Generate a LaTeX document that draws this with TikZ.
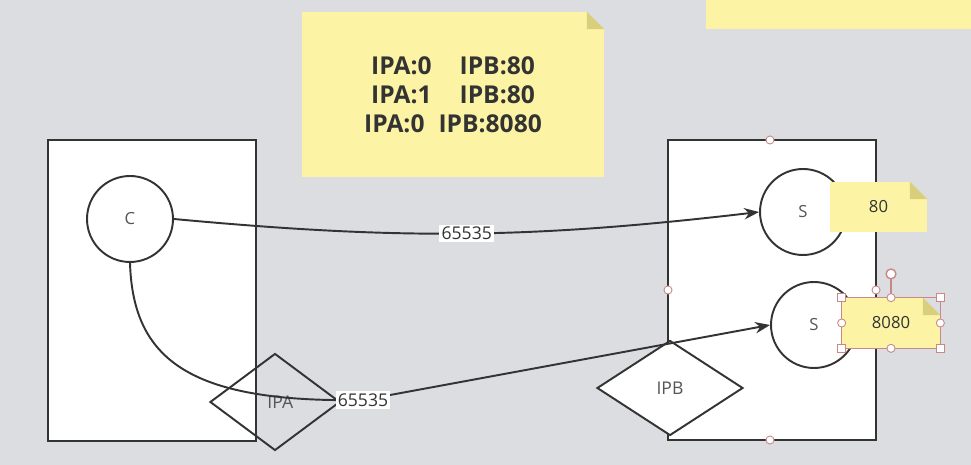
\documentclass[tikz,border=0pt]{standalone}
\usepackage{fontspec}
\setmainfont{Open Sans}
\usepackage{xcolor}
\usetikzlibrary{arrows.meta}
\usetikzlibrary{shapes.geometric}
\definecolor{bggray}{HTML}{DCDDE1}
\definecolor{notey}{HTML}{FCF4A4}
\definecolor{foldy}{HTML}{D8CE7C}
\definecolor{ink}{HTML}{333333}
\definecolor{txtgray}{HTML}{555555}
\definecolor{handle}{HTML}{C88888}
\tikzset{
  hostbox/.style={draw=ink, fill=white, line width=1.1pt, inner sep=0},
  proc/.style={circle, draw=ink, fill=white, line width=1.1pt, minimum size=1.72cm, inner sep=0, text=txtgray, font=\fontsize{9.5}{11}\selectfont},
  note/.style={fill=notey, inner sep=0, text=ink, font=\fontsize{9.5}{11}\selectfont},
  gate/.style={diamond, draw=ink, line width=1.1pt, inner sep=0, text=txtgray, font=\fontsize{10}{12}\selectfont},
  wire/.style={draw=ink, line width=1.1pt, -{Stealth[length=8.5pt,width=6.5pt]}},
  lbl/.style={fill=white, inner sep=1.2pt, text=ink, font=\fontsize{10}{12}\selectfont},
  grip/.style={draw=handle, fill=white, line width=0.5pt},
}
\begin{document}
\begin{tikzpicture}[x=0.02cm,y=-0.02cm]
\clip (0,0) rectangle (971,465);
\fill[bggray] (0,0) rectangle (971,465);
% notes at the top
\node[note, minimum width=6.04cm, minimum height=3.3cm, align=center, font=\fontsize{14}{16.4}\selectfont\bfseries] (memo) at (453,94.5) {IPA:0\hspace{16pt}IPB:80\\IPA:1\hspace{16pt}IPB:80\\IPA:0\hspace{8pt}IPB:8080};
\node[note, minimum width=5.7cm, minimum height=0.58cm] (corner) at (848,14.5) {};
% hosts
\node[hostbox, minimum width=4.16cm, minimum height=6.02cm] (hostA) at (152,290.5) {};
\node[hostbox, minimum width=4.16cm, minimum height=6cm] (hostB) at (772,290) {};
% processes
\node[proc] (cli) at (130,219) {C};
\node[proc] (srv1) at (803,212) {S};
\node[proc] (srv2) at (814,325) {S};
% gateways
\node[gate, minimum width=2.6cm, minimum height=1.94cm] (ipa) at (275,402) {\hspace{6pt}IPA};
\node[gate, fill=white, minimum width=2.92cm, minimum height=1.9cm] (ipb) at (670,388) {IPB};
% port notes
\node[note, minimum width=1.94cm, minimum height=1cm] (n80) at (878.5,207) {80};
\node[note, minimum width=1.96cm, minimum height=1cm] (n8080) at (891,323) {8080};
\foreach \n in {memo,n80,n8080}{
  \fill[bggray] ([xshift=-10pt]\n.north east) -- (\n.north east) -- ([yshift=-10pt]\n.north east) -- cycle;
  \fill[foldy] ([xshift=-10pt]\n.north east) -- ([xshift=-10pt,yshift=-10pt]\n.north east) -- ([yshift=-10pt]\n.north east) -- cycle;
}
% connections
\draw[wire] (cli.east) to[bend right=6] node[lbl]{65535} (srv1.west);
\coordinate (knee) at (363,400);
\draw[wire] (cli.south) .. controls (133,360) and (190,403) .. (knee) -- (srv2.west);
\node[lbl] (port) at (knee) {65535};
% handles
\foreach \p in {(770,140),(668,290),(770,440),(876,290)} \draw[grip] \p circle (2.3pt);
\draw[handle, line width=0.4pt] (n8080.north west) rectangle (n8080.south east);
\coordinate (rot) at ([yshift=13.5pt]n8080.north);
\draw[handle, line width=0.6pt] (n8080.north) -- (rot);
\draw[grip, line width=0.8pt] (rot) circle (2.8pt);
\foreach \a in {north west,north east,south west,south east} \draw[grip] ([shift={(-2.2pt,-2.2pt)}]n8080.\a) rectangle ++(4.4pt,4.4pt);
\foreach \a in {north,south,east,west} \draw[grip] (n8080.\a) circle (2.3pt);
\end{tikzpicture}
\end{document}
